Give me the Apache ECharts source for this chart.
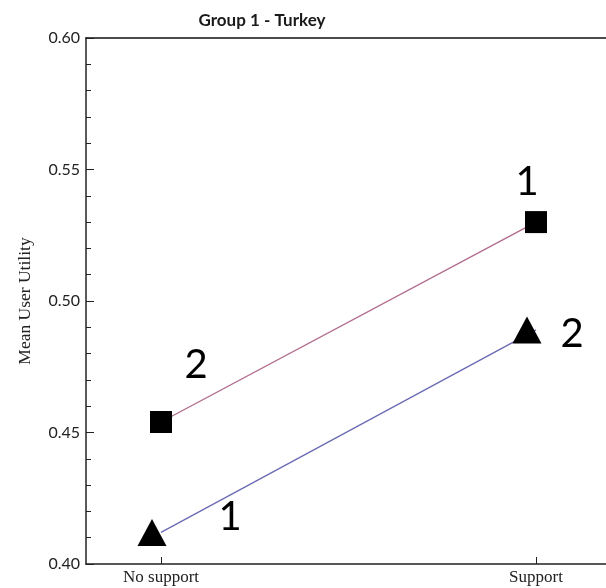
<!DOCTYPE html>
<html>
<head>
<meta charset="utf-8">
<script src="https://cdn.jsdelivr.net/npm/echarts@6/dist/echarts.min.js"></script>
<style>html,body{margin:0;padding:0;background:#fff}#c{width:606px;height:588px}</style>
</head>
<body>
<div id="c"></div>
<script>
const titleText = 'Group 1 - Turkey';
const yAxisName = 'Mean User Utility';
const categories = ['No support', 'Support'];
const categoryPositions = [0, 1];
const squareValues = [0.454, 0.530];
const triangleValues = [0.412, 0.489];
const squareLabels = ['2', '1'];
const triangleLabels = ['1', '2'];
const yMin = 0.40, yMax = 0.60, yInterval = 0.05;

const squareLabelOffsets = [[35, -57], [-9, -40]];
const triangleLabelOffsets = [[78, -15], [45, 4]];

function buildData(values, labels, offsets) {
  return values.map((v, i) => ({
    value: [categoryPositions[i], v],
    label: { show: true, formatter: labels[i], offset: offsets[i] }
  }));
}

const labelStyle = { position: 'inside', fontFamily: 'Lato', fontSize: 40, color: '#000' };

const chart = echarts.init(document.getElementById('c'));
chart.setOption({
  animation: false,
  title: {
    text: titleText, left: 257, textAlign: 'center', top: 7,
    textStyle: { fontFamily: 'Lato', fontWeight: 'bold', fontSize: 17, color: '#1a1a1a' }
  },
  grid: { left: 86, top: 38, right: 0, bottom: 24 },
  xAxis: [{
    type: 'value', min: -0.2, max: 1.1867,
    axisLine: { show: true, onZero: false, lineStyle: { color: '#222', width: 1.5 } },
    axisTick: { show: true, inside: true, length: 7, customValues: categoryPositions, lineStyle: { color: '#222' } },
    axisLabel: { show: true, customValues: categoryPositions, margin: 5,
      formatter: (v) => categories[Math.round(v)],
      fontFamily: 'Liberation Serif', fontSize: 17, color: '#222' },
    splitLine: { show: false }
  }, {
    type: 'value', position: 'top', min: -0.2, max: 1.1867,
    axisLine: { show: true, onZero: false, lineStyle: { color: '#111', width: 1.5 } },
    axisTick: { show: false }, axisLabel: { show: false }, splitLine: { show: false }
  }],
  yAxis: {
    type: 'value', min: yMin, max: yMax, interval: yInterval,
    name: yAxisName, nameLocation: 'middle', nameGap: 52, nameRotate: 90,
    nameTextStyle: { fontFamily: 'Liberation Serif', fontSize: 17.5, color: '#222' },
    axisLine: { show: true, onZero: false, lineStyle: { color: '#222', width: 1.5 } },
    axisTick: { show: true, inside: true, length: 8, lineStyle: { color: '#222' } },
    minorTick: { show: true, splitNumber: 5, length: 5, lineStyle: { color: '#222' } },
    axisLabel: { margin: 6, formatter: (v) => v.toFixed(2), fontFamily: 'Lato', fontSize: 16, color: '#222' },
    splitLine: { show: false }
  },
  series: [{
    type: 'line', name: 'square',
    data: buildData(squareValues, squareLabels, squareLabelOffsets),
    symbol: 'rect', symbolSize: 22,
    itemStyle: { color: '#000' },
    lineStyle: { color: '#b06a8c', width: 1.3 },
    label: labelStyle
  }, {
    type: 'line', name: 'triangle',
    data: buildData(triangleValues, triangleLabels, triangleLabelOffsets),
    symbol: 'triangle', symbolSize: [29, 27], symbolOffset: [-9, 0],
    itemStyle: { color: '#000' },
    lineStyle: { color: '#6a6ab4', width: 1.3 },
    label: labelStyle
  }]
});
</script>
</body>
</html>
